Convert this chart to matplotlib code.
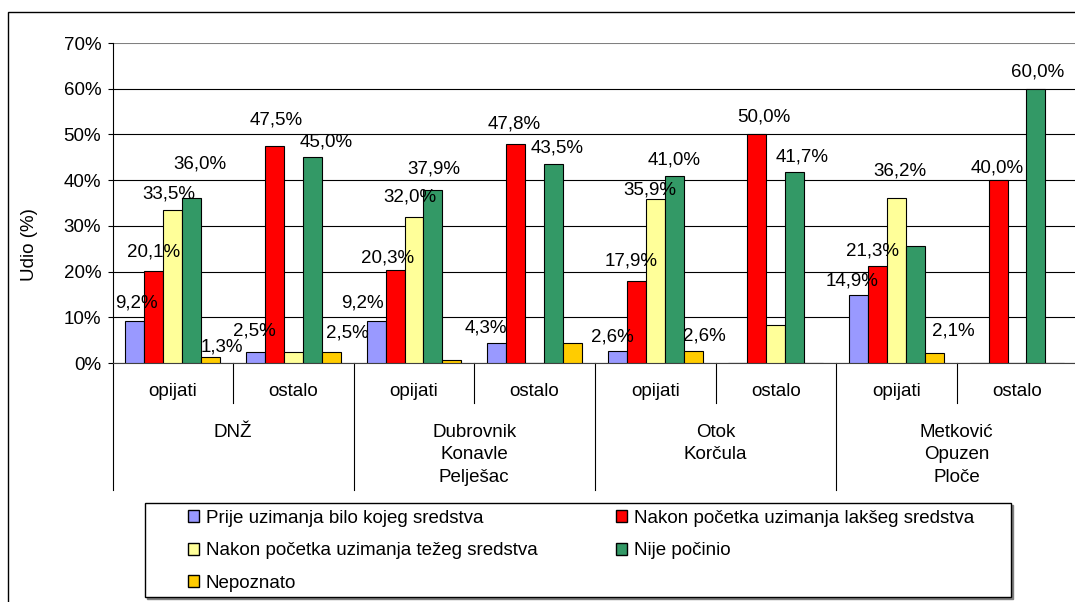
import matplotlib
matplotlib.use("Agg")
import matplotlib.pyplot as plt
import matplotlib.transforms as mtransforms
from matplotlib.patches import Rectangle, Patch

plt.rcParams['font.family'] = ['Liberation Sans', 'DejaVu Sans']

# podaci
podskupine = ['opijati', 'ostalo'] * 4
regije = ['DNŽ', 'Dubrovnik\nKonavle\nPelješac', 'Otok\nKorčula', 'Metković\nOpuzen\nPloče']
serije = ['Prije uzimanja bilo kojeg sredstva',
          'Nakon početka uzimanja lakšeg sredstva',
          'Nakon početka uzimanja težeg sredstva',
          'Nije počinio',
          'Nepoznato']
prije = [9.2, 2.5, 9.2, 4.3, 2.6, 0.0, 14.9, 0.0]
lakseg = [20.1, 47.5, 20.3, 47.8, 17.9, 50.0, 21.3, 40.0]
tezeg = [33.5, 2.5, 32.0, 0.0, 35.9, 8.3, 36.2, 0.0]
nije = [36.0, 45.0, 37.9, 43.5, 41.0, 41.7, 25.5, 60.0]
nepoznato = [1.3, 2.5, 0.6, 4.3, 2.6, 0.0, 2.1, 0.0]
vrijednosti = [prije, lakseg, tezeg, nije, nepoznato]
boje = ['#9999FF', '#FF0000', '#FFFF99', '#339966', '#FFCC00']

# pomaci oznaka (dx, dy u pikselima) - samo prikazane oznake
pomaci = {
    (0, 0): (2, 18), (0, 1): (-1, 21), (0, 2): (-14, 18), (0, 3): (-11, 15), (0, 4): (-5, 14), (0, 6): (-6, 14),
    (1, 0): (0, 19), (1, 1): (2, 26), (1, 2): (-7, 12), (1, 3): (-1, 20), (1, 4): (-5, 20), (1, 5): (7, 17),
    (1, 6): (-5, 15), (1, 7): (-1, 12),
    (2, 0): (-4, 16), (2, 2): (-4, 20), (2, 4): (-5, 9), (2, 6): (4, 27),
    (3, 0): (8, 34), (3, 1): (14, 15), (3, 2): (1, 21), (3, 3): (4, 16), (3, 4): (0, 16), (3, 5): (7, 15),
    (3, 7): (2, 17),
    (4, 0): (11, 10), (4, 1): (16, 19), (4, 4): (11, 15), (4, 6): (19, 22),
}

FS = 13.5
W, H = 1075, 602
fig = plt.figure(figsize=(W / 100, H / 100), dpi=100)
ax = fig.add_axes([112.5 / W, (H - 363) / H, 964.8 / W, 320 / H])

n = len(serije)
sirina = 0.1575
x = list(range(len(podskupine)))
for i, (vals, boja) in enumerate(zip(vrijednosti, boje)):
    pos = [xi + (i - (n - 1) / 2) * sirina for xi in x]
    ax.bar(pos, vals, width=sirina, color=boja, edgecolor='black', linewidth=0.8, zorder=3)
    for j, v in enumerate(vals):
        if (i, j) in pomaci:
            dx, dy = pomaci[(i, j)]
            ax.annotate(('%.1f%%' % v).replace('.', ','), (pos[j], v),
                        xytext=(dx * 0.72, dy * 0.72), textcoords='offset points',
                        ha='center', va='center', fontsize=FS, zorder=4)

ax.set_xlim(-0.5, len(podskupine) - 0.5)
ax.set_ylim(0, 70)
ax.set_yticks(range(0, 71, 10))
ax.set_yticklabels(['%d%%' % t for t in range(0, 71, 10)])
ax.set_xticks([])
ax.tick_params(axis='y', direction='out', length=3.6, width=0.8, pad=4.5, labelsize=FS)
ax.grid(axis='y', color='black', linewidth=0.8, zorder=0)
ax.get_ygridlines()[-1].set_color('#808080')
ax.get_ygridlines()[-1].set_linewidth(1.5)
for s in ['top', 'right']:
    ax.spines[s].set_visible(False)
ax.spines['left'].set_linewidth(0.8)
ax.spines['bottom'].set_linewidth(0.8)
ax.spines['bottom'].set_color('#404040')

# kategorijska os
tr = mtransforms.blended_transform_factory(ax.transData, ax.transAxes)
for k in range(len(podskupine) + 1):
    xb = k - 0.5
    kraj = -0.397 if k % 2 == 0 else -0.125
    ax.plot([xb, xb], [0, kraj], color='black', linewidth=0.8, transform=tr, clip_on=False)
for j, lab in enumerate(podskupine):
    ax.text(j, -0.0875, lab, transform=tr, ha='center', va='center', fontsize=FS)
for g, lab in enumerate(regije):
    ax.text(2 * g + 0.5, -0.19, lab, transform=tr, ha='center', va='top', fontsize=FS,
            linespacing=1.42)

fig.text(30 / W, 1 - 245 / H, 'Udio (%)', rotation=90, ha='center', va='center', fontsize=FS)

# vanjski okvir
fig.add_artist(Rectangle((8 / W, -0.1), 1.2, 1.1 - 12 / H, transform=fig.transFigure,
                         fill=False, edgecolor='black', linewidth=1.0))

# legenda
fig.add_artist(Rectangle((147 / W, 1 - 599 / H), 866 / W, 94 / H, transform=fig.transFigure,
                         facecolor='#808080', edgecolor='#808080', linewidth=1.0))
fig.add_artist(Rectangle((145 / W, 1 - 597 / H), 866 / W, 94 / H, transform=fig.transFigure,
                         facecolor='white', edgecolor='black', linewidth=1.0))
red = [0, 2, 4, 1, 3]
ruke = [Patch(facecolor=boje[i], edgecolor='black', linewidth=1.0) for i in red]
fig.legend(ruke, [serije[i] for i in red], loc='upper left',
           bbox_to_anchor=(188 / W, 1 - 510 / H, (974 - 188) / W, 0.0001),
           mode='expand', ncol=2, frameon=False, borderpad=0, borderaxespad=0,
           fontsize=FS, handlelength=0.6, handleheight=0.6, handletextpad=0.35,
           labelspacing=0.82)

fig.savefig('out.png', dpi=100)
